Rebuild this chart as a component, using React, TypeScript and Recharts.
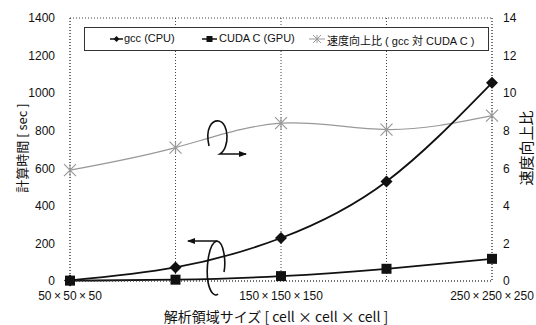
import React from 'react'
import { LineChart, Line, XAxis, YAxis, CartesianGrid, Legend } from 'recharts'

const sizes = [50, 100, 150, 200, 250]
const sizeLabels: Record<number, string> = {
  50: '50\u2009×\u200950\u2009×\u200950',
  150: '150\u2009×\u2009150\u2009×\u2009150',
  250: '250\u2009×\u2009250\u2009×\u2009250',
}
const gccTime = [3, 72, 229, 530, 1055]
const cudaTime = [2, 7, 26, 65, 118]
const speedup = [5.9, 7.1, 8.4, 8.06, 8.8]
const leftTicks = [0, 200, 400, 600, 800, 1000, 1200, 1400]
const rightTicks = [0, 2, 4, 6, 8, 10, 12, 14]

const data = sizes.map((s, i) => ({ size: s, gcc: gccTime[i], cuda: cudaTime[i], speedup: speedup[i] }))

const FONT = '"Liberation Sans", Arial, "Noto Sans CJK JP", sans-serif'
const JP = '"Noto Sans CJK JP", "Liberation Sans", sans-serif'

const Diamond = (p: any) => {
  const { cx, cy } = p
  if (cx == null || cy == null) return null
  const r = 6
  return <path key={`d${p.index}`} d={`M${cx},${cy - r}L${cx + r},${cy}L${cx},${cy + r}L${cx - r},${cy}Z`} fill="#111" />
}

const Square = (p: any) => {
  const { cx, cy } = p
  if (cx == null || cy == null) return null
  return <rect key={`s${p.index}`} x={cx - 5} y={cy - 5} width={10} height={10} fill="#111" />
}

const Star = (p: any) => {
  const { cx, cy } = p
  if (cx == null || cy == null) return null
  const r = 6
  return (
    <path
      key={`x${p.index}`}
      d={`M${cx - r},${cy - r}L${cx + r},${cy + r}M${cx - r},${cy + r}L${cx + r},${cy - r}M${cx},${cy - r}L${cx},${cy + r}`}
      stroke="#999"
      strokeWidth={1.2}
      fill="none"
    />
  )
}

const LegendBox = () => (
  <div
    style={{
      width: 403,
      height: 22,
      border: '1.5px solid #333',
      background: '#fff',
      fontFamily: FONT,
      fontSize: 11,
      color: '#111',
      position: 'relative',
    }}
  >
    <svg width={403} height={22} style={{ position: 'absolute', left: 0, top: 0 }}>
      <line x1={25} x2={38} y1={11} y2={11} stroke="#111" strokeWidth={1.5} />
      <path d="M31.5,8L34.5,11L31.5,14L28.5,11Z" fill="#111" />
      <line x1={117} x2={132} y1={11} y2={11} stroke="#111" strokeWidth={1.5} />
      <rect x={121.5} y={8} width={6} height={6} fill="#111" />
      <line x1={224} x2={240} y1={11} y2={11} stroke="#aaa" strokeWidth={1.2} />
      <path d="M228,7L236,15M228,15L236,7M232,7L232,15" stroke="#999" strokeWidth={1} />
    </svg>
    <span style={{ position: 'absolute', left: 39, top: 4 }}>gcc (CPU)</span>
    <span style={{ position: 'absolute', left: 134, top: 4 }}>CUDA C (GPU)</span>
    <span style={{ position: 'absolute', left: 242, top: 4 }}>
      <span style={{ fontFamily: JP }}>速度向上比</span> ( gcc <span style={{ fontFamily: JP }}>対</span> CUDA C )
    </span>
  </div>
)

export default function App() {
  return (
    <div style={{ position: 'fixed', left: 0, top: 0, width: 536, height: 325, background: '#fff' }}>
      <LineChart width={536} height={325} data={data} margin={{ top: 18, right: 0, left: 0, bottom: 0 }}>
        <CartesianGrid stroke="#444" strokeDasharray="1 2" vertical horizontal />
        <XAxis
          dataKey="size"
          type="number"
          domain={[50, 250]}
          ticks={sizes}
          interval={0}
          height={44}
          tickLine={false}
          tickSize={6}
          tickMargin={4}
          axisLine={{ stroke: '#444', strokeDasharray: '1 2' }}
          tickFormatter={(v: number) => sizeLabels[v] ?? ''}
          tick={{ fill: '#111', fontSize: 12, fontFamily: FONT }}
        />
        <YAxis
          yAxisId="left"
          domain={[0, 1400]}
          ticks={leftTicks}
          width={70}
          tickLine={false}
          tickMargin={9}
          axisLine={{ stroke: '#444', strokeDasharray: '1 2' }}
          tick={{ fill: '#111', fontSize: 12, fontFamily: FONT }}
        />
        <YAxis
          yAxisId="right"
          orientation="right"
          domain={[0, 14]}
          ticks={rightTicks}
          width={44}
          tickLine={false}
          tickMargin={5}
          axisLine={{ stroke: '#444', strokeDasharray: '1 2' }}
          tick={{ fill: '#111', fontSize: 12, fontFamily: FONT, textAnchor: 'start' }}
        />
        <Legend
          layout="horizontal"
          verticalAlign="middle"
          align="center"
          content={() => <LegendBox />}
          wrapperStyle={{ position: 'absolute', left: 84, top: 27, width: 406, height: 25 }}
        />
        <Line
          yAxisId="right"
          type="natural"
          dataKey="speedup"
          stroke="#999"
          strokeWidth={1.2}
          dot={Star}
          isAnimationActive={false}
        />
        <Line
          yAxisId="left"
          type="natural"
          dataKey="gcc"
          stroke="#111"
          strokeWidth={1.8}
          dot={Diamond}
          isAnimationActive={false}
        />
        <Line
          yAxisId="left"
          type="natural"
          dataKey="cuda"
          stroke="#111"
          strokeWidth={1.8}
          dot={Square}
          isAnimationActive={false}
        />
      </LineChart>
      <svg width={536} height={325} style={{ position: 'absolute', left: 0, top: 0, pointerEvents: 'none' }}>
        <defs>
          <marker id="ah" markerWidth={8} markerHeight={8} refX={7} refY={4} orient="auto" markerUnits="userSpaceOnUse">
            <path d="M0,1L8,4L0,7Z" fill="#111" />
          </marker>
        </defs>
        <path
          d="M209,146 C205,128 212,120 219,121 C229,123 230,148 220,154 L246,154"
          stroke="#111"
          strokeWidth={1.6}
          fill="none"
          markerEnd="url(#ah)"
        />
        <path
          d="M224,272 C226,262 224,242 217,241 L188,241"
          stroke="#111"
          strokeWidth={1.6}
          fill="none"
          markerEnd="url(#ah)"
        />
        <path
          d="M217,241 C208,243 206,270 208,282 C210,293 215,297 218,294"
          stroke="#111"
          strokeWidth={1.6}
          fill="none"
        />
        <text
          transform="translate(21,148) rotate(-90)"
          textAnchor="middle"
          dominantBaseline="central"
          fontFamily={JP}
          fontSize={13}
          fill="#111"
        >
          計算時間 [ sec ]
        </text>
        <text
          transform="translate(525,148) rotate(-90)"
          textAnchor="middle"
          dominantBaseline="central"
          fontFamily={JP}
          fontSize={15}
          fill="#111"
        >
          速度向上比
        </text>
        <text x={276} y={316} textAnchor="middle" dominantBaseline="central" fontFamily={JP} fontSize={14} fill="#111">
          解析領域サイズ [ cell × cell × cell ]
        </text>
      </svg>
    </div>
  )
}
